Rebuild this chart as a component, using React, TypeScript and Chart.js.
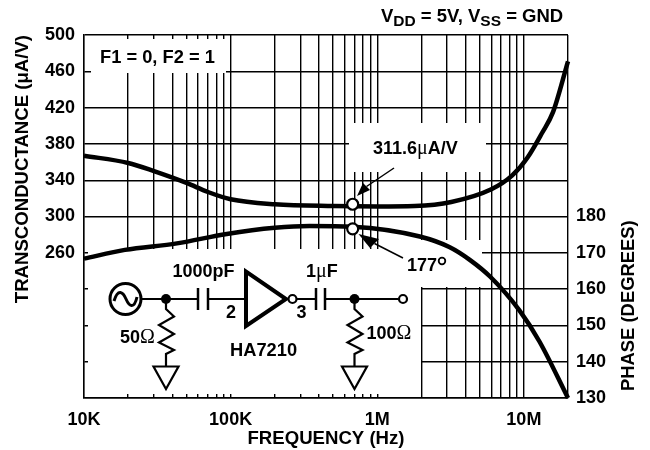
import React, { useEffect, useRef } from "react";
import { Chart, registerables } from "chart.js";

Chart.register(...registerables);

const gmFrequency = [1e4, 2e4, 3e4, 5e4, 7e4, 1e5, 2e5, 5e5, 1e6, 1.8e6, 3.2e6, 6e6, 8.3e6, 1.06e7, 1.33e7, 1.58e7, 2e7];
const gmValues = [367, 359, 350, 337, 327, 319, 313.5, 311.5, 311, 311.5, 316, 330, 345, 365, 392, 415, 471];
const phaseFrequency = [1e4, 1.9e4, 4.3e4, 9.4e4, 2e5, 3.45e5, 6.8e5, 1.95e6, 3.1e6, 4.3e6, 5.9e6, 9.3e6, 1.28e7, 2e7];
const phaseValues = [168.4, 170.8, 172.6, 175.2, 176.9, 177.4, 177.2, 174.5, 171.6, 168, 163.4, 154.2, 145.5, 130];
const markerFrequency = [6.8e5];
const gmMarker = [313.5];
const phaseMarker = [176.6];
const frequencyTicks = [1e4, 2e4, 3e4, 4e4, 5e4, 6e4, 7e4, 8e4, 9e4, 1e5, 2e5, 3e5, 4e5, 5e5, 6e5, 7e5, 8e5, 9e5, 1e6, 2e6, 3e6, 4e6, 5e6, 6e6, 7e6, 8e6, 9e6, 1e7, 2e7];
const frequencyLabels: Record<number, string> = { 10000: "10K", 100000: "100K", 1000000: "1M", 10000000: "10M" };
const gmLabelMin = 260;
const phaseLabelMax = 180;

const SANS = '"Liberation Sans", Arial, sans-serif';
const SERIF = '"Liberation Serif", serif';
const BOLD = `bold 18px ${SANS}`;

type Run = { t: string; font?: string; dy?: number };

function runs(ctx: CanvasRenderingContext2D, x: number, y: number, list: Run[]) {
  let cx = x;
  for (const r of list) {
    ctx.font = r.font ?? BOLD;
    ctx.fillText(r.t, cx, y + (r.dy ?? 0));
    cx += ctx.measureText(r.t).width;
  }
}

function poly(ctx: CanvasRenderingContext2D, pts: number[][], close = false) {
  ctx.beginPath();
  pts.forEach((p, i) => (i ? ctx.lineTo(p[0], p[1]) : ctx.moveTo(p[0], p[1])));
  if (close) ctx.closePath();
  ctx.stroke();
}

function arrow(ctx: CanvasRenderingContext2D, from: number[], tip: number[], a: number[], b: number[]) {
  ctx.lineWidth = 1.5;
  poly(ctx, [from, [(a[0] + b[0]) / 2, (a[1] + b[1]) / 2]]);
  ctx.beginPath();
  ctx.moveTo(tip[0], tip[1]);
  ctx.lineTo(a[0], a[1]);
  ctx.lineTo(b[0], b[1]);
  ctx.closePath();
  ctx.fill();
}

const masks = {
  id: "masks",
  beforeDatasetsDraw(chart: Chart) {
    const ctx = chart.ctx;
    ctx.save();
    ctx.fillStyle = "#fff";
    ctx.fillRect(91, 39, 135, 34);
    ctx.fillRect(349, 123, 137, 49);
    ctx.fillRect(88, 249, 333, 145);
    ctx.fillRect(420, 240, 62, 47);
    ctx.restore();
  },
};

const notes = {
  id: "notes",
  afterDatasetsDraw(chart: Chart) {
    const ctx = chart.ctx;
    ctx.save();
    ctx.fillStyle = "#000";
    ctx.strokeStyle = "#000";
    ctx.textBaseline = "alphabetic";
    ctx.textAlign = "left";
    ctx.lineJoin = "miter";

    const sub = `bold 15.5px ${SANS}`;
    const big = `bold 18.5px ${SANS}`;
    const greek = `20px ${SERIF}`;
    runs(ctx, 381, 22, [
      { t: "V", font: big }, { t: "DD", font: sub, dy: 4 }, { t: " = 5V, V", font: big },
      { t: "SS", font: sub, dy: 4 }, { t: " = GND", font: big },
    ]);
    runs(ctx, 100, 63, [{ t: "F1 = 0, F2 = 1", font: `bold 18.3px ${SANS}` }]);
    runs(ctx, 373, 154, [{ t: "311.6" }, { t: "\u03BC", font: greek }, { t: "A/V" }]);
    runs(ctx, 407, 271, [{ t: "177" }]);
    ctx.lineWidth = 1.8;
    ctx.beginPath();
    ctx.arc(442, 261, 3.3, 0, Math.PI * 2);
    ctx.stroke();
    runs(ctx, 172.5, 276.5, [{ t: "1000pF" }]);
    runs(ctx, 306, 276.5, [{ t: "1" }, { t: "\u03BC", font: greek }, { t: "F" }]);
    runs(ctx, 226, 317.5, [{ t: "2" }]);
    runs(ctx, 296.5, 317.5, [{ t: "3" }]);
    runs(ctx, 120, 343, [{ t: "50" }, { t: "\u03A9", font: greek }]);
    runs(ctx, 366.5, 339, [{ t: "100" }, { t: "\u03A9", font: greek }]);
    runs(ctx, 230, 356, [{ t: "HA7210", font: `bold 18.3px ${SANS}` }]);

    ctx.save();
    ctx.translate(634, 391);
    ctx.rotate(-Math.PI / 2);
    ctx.font = `bold 18.4px ${SANS}`;
    ctx.fillText("PHASE (DEGREES)", 0, 0);
    ctx.restore();

    arrow(ctx, [394, 168], [357, 196], [370, 190], [363, 183]);
    arrow(ctx, [403, 258], [358.5, 234], [370, 248], [379, 239]);

    // test circuit
    ctx.lineWidth = 2;
    poly(ctx, [[142, 299], [198, 299]]);
    poly(ctx, [[208, 299], [246, 299]]);
    poly(ctx, [[297, 299], [316, 299]]);
    poly(ctx, [[325, 299], [398, 299]]);
    ctx.lineWidth = 2.5;
    poly(ctx, [[198, 288], [198, 310]]);
    poly(ctx, [[208, 288], [208, 310]]);
    poly(ctx, [[316, 288], [316, 310]]);
    poly(ctx, [[325, 288], [325, 310]]);

    ctx.lineWidth = 3;
    ctx.beginPath();
    ctx.arc(125.5, 299, 15.5, 0, Math.PI * 2);
    ctx.stroke();
    ctx.beginPath();
    ctx.moveTo(114, 301);
    ctx.bezierCurveTo(118, 288, 123, 292, 126, 299);
    ctx.bezierCurveTo(129, 306, 134, 310, 137, 297);
    ctx.stroke();

    ctx.lineWidth = 4;
    poly(ctx, [[246, 271.5], [246, 326], [286, 299]], true);

    ctx.lineWidth = 2.2;
    for (const x of [166, 354.5]) {
      poly(ctx, [[x, 299], [x, 309], [x + 8, 316.5], [x - 7, 325], [x + 8, 334], [x - 7, 342.5], [x + 8, 350], [x, 354], [x, 366]]);
      poly(ctx, [[x - 12.5, 366.5], [x + 12.5, 366.5], [x, 389]], true);
      ctx.beginPath();
      ctx.arc(x, 299, 5, 0, Math.PI * 2);
      ctx.fill();
    }
    ctx.fillStyle = "#fff";
    ctx.lineWidth = 2.2;
    for (const [x, r] of [[292.5, 4], [403, 4]]) {
      ctx.beginPath();
      ctx.arc(x, 299, r, 0, Math.PI * 2);
      ctx.fill();
      ctx.stroke();
    }
    ctx.restore();
  },
};

export default function App() {
  const ref = useRef<HTMLCanvasElement>(null);
  useEffect(() => {
    const font = { family: SANS, weight: "bold" as const, size: 18 };
    const titleFont = { family: SANS, weight: "bold" as const, size: 18.6 };
    const chart = new Chart(ref.current!, {
      type: "line",
      data: {
        datasets: [
          {
            label: "Transconductance marker",
            data: markerFrequency.map((x, i) => ({ x, y: gmMarker[i] })),
            yAxisID: "y",
            order: 0,
            showLine: false,
            pointRadius: 5.5,
            pointBackgroundColor: "#fff",
            pointBorderColor: "#000",
            pointBorderWidth: 2.2,
          },
          {
            label: "Phase marker",
            data: markerFrequency.map((x, i) => ({ x, y: phaseMarker[i] })),
            yAxisID: "y2",
            order: 0,
            showLine: false,
            pointRadius: 5.5,
            pointBackgroundColor: "#fff",
            pointBorderColor: "#000",
            pointBorderWidth: 2.2,
          },
          {
            label: "Transconductance",
            data: gmFrequency.map((x, i) => ({ x, y: gmValues[i] })),
            yAxisID: "y",
            order: 1,
            borderColor: "#000",
            borderWidth: 4.5,
            pointRadius: 0,
            cubicInterpolationMode: "monotone",
            clip: false,
          },
          {
            label: "Phase",
            data: phaseFrequency.map((x, i) => ({ x, y: phaseValues[i] })),
            yAxisID: "y2",
            order: 1,
            borderColor: "#000",
            borderWidth: 4.5,
            pointRadius: 0,
            cubicInterpolationMode: "monotone",
            clip: false,
          },
        ],
      },
      options: {
        responsive: false,
        animation: false,
        events: [],
        layout: { padding: { top: 35, left: 0, right: 0, bottom: 0 } },
        plugins: { legend: { display: false }, tooltip: { enabled: false } },
        scales: {
          x: {
            type: "logarithmic",
            min: 1e4,
            max: 2e7,
            afterBuildTicks: (s: any) => {
              s.ticks = frequencyTicks.map((value) => ({ value }));
            },
            afterFit: (s: any) => {
              s.height = 52;
            },
            grid: { color: "#000", lineWidth: 1.4, drawTicks: false },
            border: { color: "#000", width: 1.4 },
            ticks: {
              color: "#000",
              font,
              padding: 11,
              autoSkip: false,
              maxRotation: 0,
              callback: (v: any) => frequencyLabels[Number(v)] ?? "",
            },
            title: { display: true, text: "FREQUENCY (Hz)", color: "#000", font: titleFont, padding: { top: 1, bottom: 0 } },
          },
          y: {
            type: "linear",
            position: "left",
            min: 100,
            max: 500,
            afterFit: (s: any) => {
              s.width = 84;
            },
            grid: { color: "#000", lineWidth: 1.4, drawTicks: false },
            border: { color: "#000", width: 1.4 },
            ticks: {
              stepSize: 40,
              color: "#000",
              font,
              padding: 9,
              callback: (v: any) => (Number(v) >= gmLabelMin ? String(v) : ""),
            },
            title: {
              display: true,
              text: "TRANSCONDUCTANCE (\u03BCA/V)",
              align: "end",
              color: "#000",
              font: titleFont,
              padding: { top: 11.5, bottom: 0 },
            },
          },
          y2: {
            type: "linear",
            position: "right",
            min: 130,
            max: 230,
            afterFit: (s: any) => {
              s.width = 82;
            },
            grid: { display: false, drawTicks: false },
            border: { display: false },
            ticks: {
              stepSize: 10,
              color: "#000",
              font,
              padding: 8,
              callback: (v: any) => (Number(v) <= phaseLabelMax ? String(v) : ""),
            },
          },
        },
      },
      plugins: [masks, notes],
    } as any);
    return () => chart.destroy();
  }, []);
  return (
    <div style={{ position: "fixed", left: 0, top: 0, width: 650, height: 450, background: "#fff" }}>
      <canvas ref={ref} width={650} height={450} style={{ display: "block" }} />
    </div>
  );
}
